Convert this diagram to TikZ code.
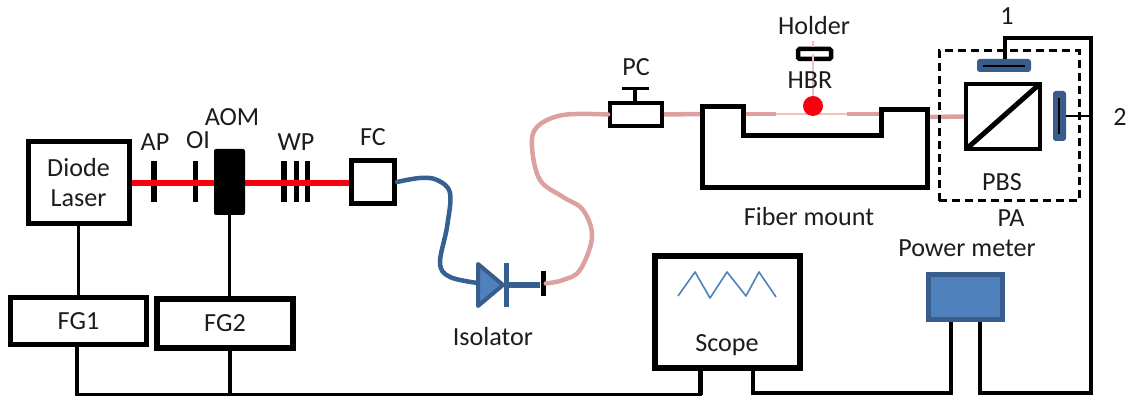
\documentclass[tikz,border=0pt]{standalone}
\usepackage{fontspec}
\setmainfont{Carlito}
\usetikzlibrary{calc}
\definecolor{beam}{HTML}{F80010}
\definecolor{fibpink}{HTML}{DDA0A0}
\definecolor{thinpink}{HTML}{F0C0C0}
\definecolor{fibblue}{HTML}{366092}
\definecolor{bluefill}{HTML}{4F81BD}
\definecolor{blueedge}{HTML}{385D8A}
\definecolor{inktext}{HTML}{1C1C1C}
\def\u{0.75pt}
\tikzset{
  x=0.75pt,y=-0.75pt,
  lab/.style={inner sep=0pt,outer sep=0pt,text=inktext,font=\fontsize{19.6}{23.2}\selectfont},
  blackbox/.style={draw=black,fill=white,rectangle,inner sep=0pt,text=inktext,font=\fontsize{19.6}{23.2}\selectfont,align=center},
  wire/.style={draw=black,line width=3.2*\u},
  redbeam/.style={draw=beam,line width=6*\u},
  pinkfib/.style={draw=fibpink,line width=4.5*\u,line cap=round},
  thinfib/.style={draw=thinpink,line width=1.2*\u},
  bluefib/.style={draw=fibblue,line width=4.5*\u,line cap=round},
  plate/.style={fill=black,rectangle,inner sep=0pt,minimum height=41*\u},
  detector/.style={fill=blueedge,draw=blueedge,line width=2*\u,rounded corners=2*\u,rectangle,inner sep=0pt},
}
\begin{document}
\begin{tikzpicture}
\useasboundingbox (0,0) rectangle (1126,398);
\fill[white] (0,0) rectangle (1126,398);

% laser line optics
\node[plate,minimum width=6*\u] (ap) at (154,181.5) {};
\node[plate,minimum width=5*\u] (oi) at (195,181.5) {};
\node[plate,minimum width=6*\u] (wp1) at (284,181.5) {};
\node[plate,minimum width=5*\u] (wp2) at (296,181.5) {};
\node[plate,minimum width=5*\u] (wp3) at (307,181.5) {};

% beam passes over the plates, under the AOM
\coordinate (beamL) at (129,183);
\coordinate (beamR) at (352,183);
\draw[redbeam] (beamL) -- (beamR);

\node[blackbox,line width=5*\u,minimum width=101*\u,minimum height=82*\u] (laser) at (78.5,182.5) {Diode\\Laser};
\node[fill=black,rectangle,inner sep=0pt,rounded corners=2*\u,minimum width=31*\u,minimum height=66*\u] (aom) at (229.5,182) {};
\node[blackbox,line width=5*\u,minimum width=43*\u,minimum height=43*\u] (fc) at (373,182) {};

\node[blackbox,line width=5*\u,minimum width=136*\u,minimum height=47*\u] (fg1) at (78.5,321.5) {FG1};
\node[blackbox,line width=6*\u,minimum width=136*\u,minimum height=49*\u] (fg2) at (225,323.5) {FG2};

\node[lab] (tap) at (155,142) {AP};
\node[lab] (toi) at (198,140) {OI};
\node[lab] (taom) at (232,117) {AOM};
\node[lab] (twp) at (296,142) {WP};
\node[lab] (tfc) at (373,137) {FC};

% fibre, blue part
\coordinate (isoIn) at (478,283);
\draw[bluefib] plot[smooth,tension=0.6] coordinates {(fc.east) (420,178) (437,180) (450,193) (447,227) (440,263) (450,277) (isoIn)};

% isolator
\node[inner sep=0pt,minimum size=1pt] (isotip) at (503,285) {};
\draw[fill=bluefill,draw=blueedge,line width=4*\u,line join=round] (478,264) -- (isotip.center) -- (478,306) -- cycle;
\node[rectangle,fill=fibblue,inner sep=0pt,minimum width=5*\u,minimum height=44*\u] (isobar) at (506,285) {};
\node[rectangle,fill=black,inner sep=0pt,minimum width=5*\u,minimum height=25*\u] (isoend) at (543,283.5) {};
\draw[draw=fibblue,line width=6*\u] (isobar.center) -- (isobar.center -| isoend.west);
\node[lab] (tiso) at (493,337) {Isolator};

% polarization controller
\node[blackbox,line width=4*\u,minimum width=52*\u,minimum height=23*\u] (pc) at (636,114.5) {};
\coordinate (pctop) at (635,89);
\draw[line width=3.5*\u,draw=black] (pc.north -| pctop) -- (pctop);
\draw[line width=3*\u,draw=black] (622,89) -- (649,89);
\node[lab] (tpc) at (636,67) {PC};

% fibre, pink part
\draw[pinkfib] plot[smooth,tension=0.6] coordinates {(pc.west) (563,115) (537,127) (532,147) (540,180) (563,197) (583,210) (592,237) (580,270) (563,280) (isoend.east)};

% fibre mount
\coordinate (mtL) at (702,114);
\draw[pinkfib,line cap=butt] (pc.east) -- (mtL);
\draw[thinfib] (743,114) -- (881,114);
\draw[pinkfib,line cap=butt] (743,114) -- (776,114);
\draw[pinkfib,line cap=butt] (847,114) -- (881,114);
\coordinate (mtR) at (927,117);
\node[rectangle,draw=black,fill=white,line width=4.5*\u,inner sep=0pt,minimum width=74*\u,minimum height=65*\u] (pbs) at (1003,116.5) {};
\draw[pinkfib,line cap=butt] (mtR) -- (pbs.west);
\draw[line width=5*\u,draw=black,line join=miter] (702,107) -- (743,107) -- (743,136) -- (881,136) -- (881,110) -- (927,110) -- (927,188) -- (702,188) -- cycle;
\draw[line width=5*\u,draw=black,shorten >=3.5*\u,shorten <=3.5*\u] (pbs.south west) -- (pbs.north east);
\node[lab] (tfm) at (809,217) {Fiber mount};

% HBR and holder
\node[rectangle,draw=black,fill=white,line width=4.5*\u,rounded corners=1.5*\u,inner sep=0pt,minimum width=33*\u,minimum height=10*\u] (holder) at (814.5,54) {};
\node[circle,fill=beam,inner sep=0pt,minimum size=20*\u] (hbr) at (813,106) {};
\coordinate (holdtop) at (813,41);
\draw[thinfib] (holdtop) -- (holdtop |- holder.north);
\draw[thinfib] (holder.center -| holdtop) -- (hbr.north);
\node[lab] (thold) at (814,26) {Holder};
\node[lab] (thbr) at (810,80) {HBR};

% polarization analyser
\node[rectangle,draw=black,line width=3*\u,dash pattern=on 8*\u off 5*\u,inner sep=0pt,minimum width=140*\u,minimum height=150*\u] (pa) at (1009,126) {};
\node[detector,minimum width=52*\u,minimum height=11*\u] (det1) at (1004,65.5) {};
\draw[draw=black,line width=2.2*\u] (983,66) -- (1025,66);
\node[detector,minimum width=11*\u,minimum height=48*\u] (det2) at (1059.5,116) {};
\draw[draw=black,line width=2.2*\u] (1059,98) -- (1059,134);
\node[lab] (tpbs) at (1002,182) {PBS};
\node[lab] (tpa) at (1011,218) {PA};
\node[lab] (tone) at (1007,16) {1};
\node[lab] (ttwo) at (1120,117) {2};

% scope and power meter
\node[blackbox,line width=5.5*\u,minimum width=145*\u,minimum height=112*\u] (scope) at (727.5,312) {};
\node[lab] (tscope) at (727,345) {Scope};
\draw[draw=bluefill,line width=1.6*\u,line join=round] (678,296) -- (695,272) -- (710,298) -- (727,272) -- (746,296) -- (759,272) -- (776,297);
\node[rectangle,fill=bluefill,draw=blueedge,line width=5*\u,inner sep=0pt,minimum width=74*\u,minimum height=45*\u] (pm) at (965.5,297) {};
\node[lab] (tpm) at (967,248) {Power meter};

% wires
\draw[wire] (laser) -- (fg1);
\draw[wire] (aom.south) -- (aom.south |- fg2.north);
\coordinate (busL) at (77,394.5);
\coordinate (busS) at (700,394.5);
\draw[wire,line join=miter] (fg1.south -| busL) -- (busL) -- (busS) -- (busS |- scope.south);
\draw[wire,line width=5*\u] (busS) -- (busS |- scope.south);
\coordinate (busF) at (230,394.5);
\draw[wire] (fg2.south -| busF) -- (busF);
\coordinate (sc2) at (753,393);
\coordinate (pm1) at (951,393);
\draw[wire,line width=4*\u,line join=miter] (scope.south -| sc2) -- (sc2) -- (pm1) -- (pm1 |- pm.south);
\coordinate (pm2) at (980,393);
\coordinate (rt) at (1091,393);
\coordinate (rtop) at (1091,38.5);
\coordinate (d1) at (1005,38.5);
\draw[wire,line width=4*\u,line join=miter] (pm.south -| pm2) -- (pm2) -- (rt) -- (rtop) -- (d1) -- (d1 |- det1.north);
\draw[wire,line width=2.5*\u] (det2.east) -- (det2.east -| rt);
\end{tikzpicture}
\end{document}
